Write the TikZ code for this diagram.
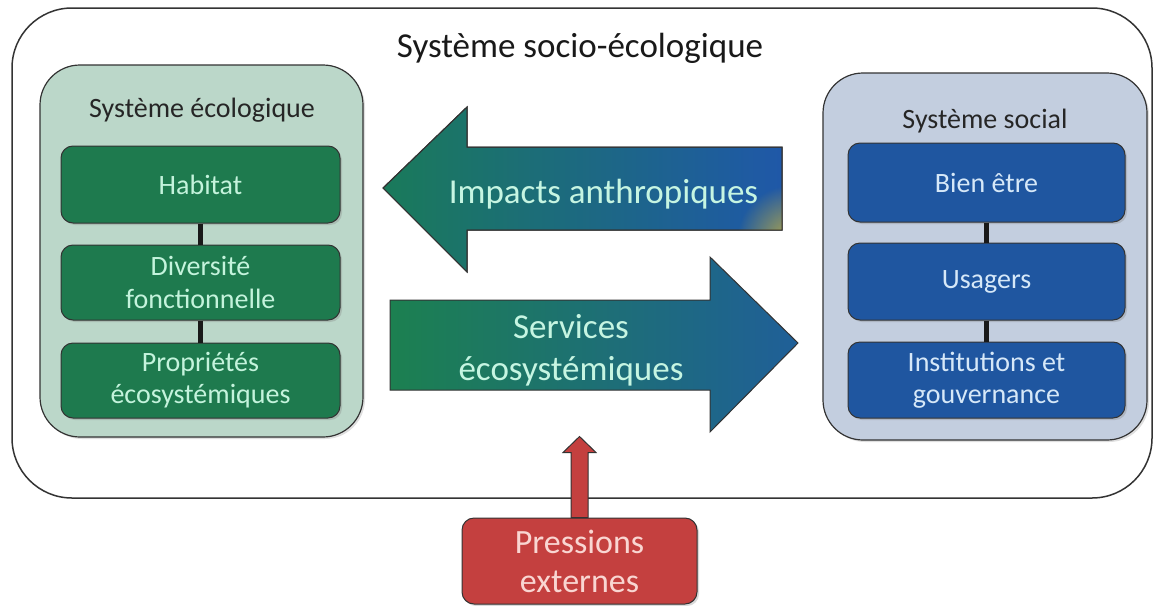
\documentclass[tikz,border=0pt]{standalone}
\usepackage{fontspec}
\setmainfont{Carlito}
\usetikzlibrary{shadows,fadings}
\definecolor{outerline}{HTML}{333333}
\definecolor{ecopanel}{HTML}{BBD7C9}
\definecolor{ecobox}{HTML}{1E7A4E}
\definecolor{ecotext}{HTML}{C4F3DC}
\definecolor{socpanel}{HTML}{C3CEDF}
\definecolor{socbox}{HTML}{1F56A0}
\definecolor{soctext}{HTML}{D6E8F8}
\definecolor{pressfill}{HTML}{C4403F}
\definecolor{presstext}{HTML}{F9D6D2}
\definecolor{impL}{HTML}{1A7A5A}
\definecolor{impR}{HTML}{1F58A8}
\definecolor{serL}{HTML}{1C8050}
\definecolor{serR}{HTML}{1F5F98}
\definecolor{arrowtext}{HTML}{C6F5E2}
\definecolor{glow}{HTML}{C9B43A}
\tikzfading[name=softglow, inner color=transparent!0, outer color=transparent!100]
\tikzset{
  fsz/.style={font=\fontsize{#1}{\fpeval{#1*1.15}}\selectfont},
  panel/.style={draw=outerline, line width=1.2pt, rounded corners=40pt, inner sep=0pt,
     drop shadow={opacity=0.25, shadow xshift=2pt, shadow yshift=-2pt}},
  itembox/.style={draw=black!80, line width=1pt, rounded corners=12pt, inner sep=0pt,
     minimum width=279pt, align=center, fsz=28,
     drop shadow={opacity=0.3, shadow xshift=2pt, shadow yshift=-2pt}},
  ecoitem/.style={itembox, fill=ecobox, text=ecotext},
  socitem/.style={itembox, fill=socbox, text=soctext, minimum width=277pt},
  link/.style={line width=4.5pt, draw=black!90},
  bigarrow/.style={draw=black!80, line width=1pt},
  paneltitle/.style={fsz=28, text=black!85, anchor=base, inner sep=0pt},
  arrowlabel/.style={fsz=35, text=arrowtext, inner sep=0pt, align=center},
}
\begin{document}
\begin{tikzpicture}[x=1pt,y=-1pt]
\useasboundingbox (0,0) rectangle (1161,605);
% outer system
\node[draw=outerline, line width=1.5pt, rounded corners=60pt, minimum width=1140pt, minimum height=490pt, inner sep=0pt] (outer) at (582,253) {};
\node[fsz=35, text=black!90, inner sep=0pt] (title) at (580,48) {Système socio-écologique};
% ecological panel
\node[panel, fill=ecopanel, minimum width=323pt, minimum height=372pt] (eco) at (201.5,251) {};
\node[paneltitle] (ecotitle) at (202,117) {Système écologique};
\node[ecoitem, minimum height=77pt] (hab) at (200.5,184.5) {Habitat};
\node[ecoitem, minimum height=75pt] (div) at (200.5,282.5) {Diversité\\fonctionnelle};
\node[ecoitem, minimum height=75pt] (prop) at (200.5,380.5) {Propriétés\\écosystémiques};
\draw[link] (hab.south) -- (div.north);
\draw[link] (div.south) -- (prop.north);
% social panel
\node[panel, fill=socpanel, minimum width=324pt, minimum height=367pt] (soc) at (985,256.5) {};
\node[paneltitle] (soctitle) at (985,128) {Système social};
\node[socitem, minimum height=79pt] (bien) at (986.5,182.5) {Bien être};
\node[socitem, minimum height=77pt] (usa) at (986.5,281.5) {Usagers};
\node[socitem, minimum height=76pt] (inst) at (986.5,380) {Institutions et\\gouvernance};
\draw[link] (bien.south) -- (usa.north);
\draw[link] (usa.south) -- (inst.north);
% impacts arrow
\shadedraw[bigarrow, left color=impL, right color=impR]
  (383,188) -- (467,107) -- (467,147) -- (782,147) -- (782,230) -- (467,230) -- (467,272) -- cycle;
\begin{scope}
  \clip (383,188) -- (467,107) -- (467,147) -- (782,147) -- (782,230) -- (467,230) -- (467,272) -- cycle;
  \fill[glow, path fading=softglow, fill opacity=0.9] (792,240) circle (55);
\end{scope}
\draw[bigarrow] (383,188) -- (467,107) -- (467,147) -- (782,147) -- (782,230) -- (467,230) -- (467,272) -- cycle;
\node[arrowlabel, anchor=base] (imp) at (603.5,203) {Impacts anthropiques};
% services arrow
\shadedraw[bigarrow, left color=serL, right color=serR]
  (390,300) -- (710,300) -- (710,257) -- (798,343) -- (710,432) -- (710,390) -- (390,390) -- cycle;
\node[arrowlabel] (ser) at (571,350) {Services\\[2pt]écosystémiques};
% pressions externes
\node[draw=black!80, line width=1pt, fill=pressfill, text=presstext, rounded corners=12pt,
      minimum width=235pt, minimum height=86pt, inner sep=0pt, align=center, fsz=34,
      drop shadow={opacity=0.3, shadow xshift=2pt, shadow yshift=-2pt}] (pres) at (579.5,561) {Pressions\\externes};
\filldraw[fill=pressfill, draw=black!80, line width=1pt]
  ([xshift=-8.5pt]pres.north) -- ++(0,-65) -- ++(-8,0) -- ++(16.5,-16) -- ++(16.5,16) -- ++(-8,0) -- ++(0,65) -- cycle;
\end{tikzpicture}
\end{document}
